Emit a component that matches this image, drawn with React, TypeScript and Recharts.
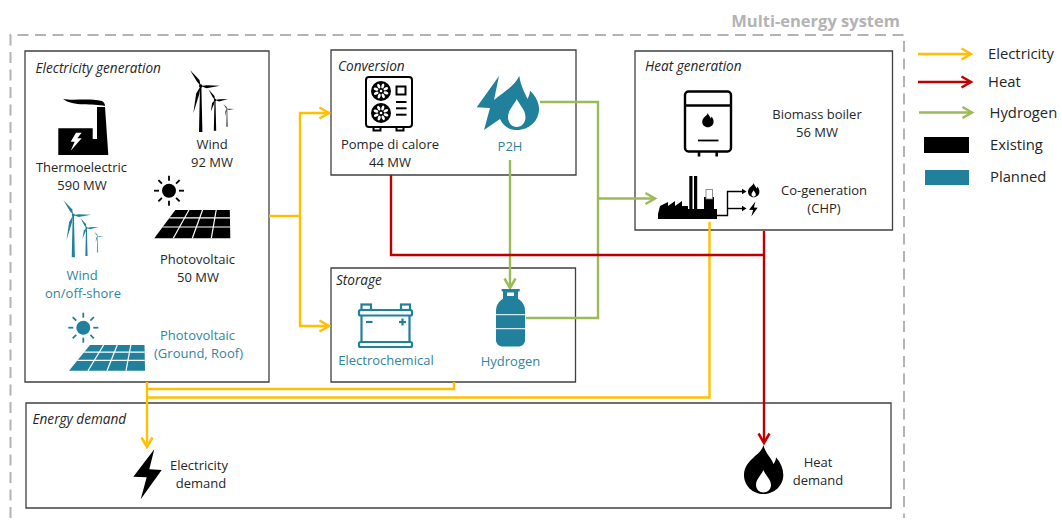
import React from 'react';
import { ScatterChart, Scatter, XAxis, YAxis, ReferenceArea } from 'recharts';

const W = 1062;
const H = 520;

const colors = {
  electricity: '#FFC000',
  heat: '#C00000',
  hydrogen: '#9BBB59',
  planned: '#21809B',
  plannedText: '#31859C',
  box: '#404040',
  system: '#B3B3B3',
  text: '#262626',
};

// frames, [x1, x2, y1, y2]
const boxes = [
  [25, 269, 51, 382],
  [331, 576, 50, 175],
  [331, 575.5, 268, 382],
  [635, 892.5, 51, 230],
  [26, 891, 403, 508],
];
const swatches = [
  { box: [924, 969, 137, 153], fill: '#000000' },
  { box: [925, 969, 170, 185], fill: colors.planned },
];

const systemBorder = [
  { x: 10.5, y: 518 }, { x: 10.5, y: 35 }, { x: 904, y: 35 }, { x: 904, y: 518 },
];

// connectors
const electricityLinks = [
  [{ x: 269, y: 216 }, { x: 300, y: 216 }],
  [{ x: 329, y: 113 }, { x: 300, y: 113 }, { x: 300, y: 326 }, { x: 329, y: 326 }],
  [{ x: 147, y: 382 }, { x: 147, y: 445 }],
  [{ x: 147, y: 389 }, { x: 454, y: 389 }, { x: 454, y: 382 }],
  [{ x: 147, y: 397.5 }, { x: 709.5, y: 397.5 }, { x: 709.5, y: 222 }],
  [{ x: 918, y: 54 }, { x: 970, y: 54 }],
];
const heatLinks = [
  [{ x: 391, y: 175 }, { x: 391, y: 255 }, { x: 764, y: 255 }],
  [{ x: 764, y: 231 }, { x: 764, y: 441 }],
  [{ x: 918, y: 82 }, { x: 970, y: 82 }],
];
const hydrogenLinks = [
  [{ x: 540, y: 102 }, { x: 598, y: 102 }, { x: 598, y: 318 }, { x: 526, y: 318 }],
  [{ x: 598, y: 198.5 }, { x: 654, y: 198.5 }],
  [{ x: 510, y: 160 }, { x: 510, y: 287 }],
  [{ x: 919, y: 112.5 }, { x: 971, y: 112.5 }],
];
const outputLinks = [
  [{ x: 717, y: 215.5 }, { x: 727.5, y: 215.5 }, { x: 727.5, y: 191.5 }, { x: 743, y: 191.5 }],
  [{ x: 727.5, y: 208.5 }, { x: 743, y: 208.5 }],
];

// arrow tips, angle in degrees
const electricityTips = [
  { x: 329, y: 113, a: 0 }, { x: 329, y: 326, a: 0 }, { x: 147, y: 447, a: 90 }, { x: 971, y: 54, a: 0 },
];
const heatTips = [{ x: 764, y: 443, a: 90 }, { x: 971, y: 82, a: 0 }];
const hydrogenTips = [{ x: 655, y: 198.5, a: 0 }, { x: 510, y: 288, a: 90 }, { x: 972, y: 112.5, a: 0 }];
const outputTips = [{ x: 746.5, y: 191.5, a: 0 }, { x: 746.5, y: 208.5, a: 0 }];

// text
const blackLabels = [
  { x: 212, y: 144, t: 'Wind' }, { x: 212, y: 162, t: '92 MW' },
  { x: 81.5, y: 167, t: 'Thermoelectric' }, { x: 82, y: 185, t: '590 MW' },
  { x: 197.5, y: 259, t: 'Photovoltaic' }, { x: 198, y: 277, t: '50 MW' },
  { x: 390, y: 144, t: 'Pompe di calore' }, { x: 390, y: 162, t: '44 MW' },
  { x: 817, y: 114, t: 'Biomass boiler' }, { x: 817, y: 132, t: '56 MW' },
  { x: 824, y: 190, t: 'Co-generation' }, { x: 824, y: 208, t: '(CHP)' },
  { x: 199, y: 465, t: 'Electricity' }, { x: 201, y: 483, t: 'demand' },
  { x: 818, y: 462, t: 'Heat' }, { x: 818, y: 480, t: 'demand' },
];
const plannedLabels = [
  { x: 82, y: 275, t: 'Wind' }, { x: 83, y: 293, t: 'on/off-shore' },
  { x: 197.5, y: 335, t: 'Photovoltaic' }, { x: 198.5, y: 353, t: '(Ground, Roof)' },
  { x: 510, y: 146, t: 'P2H' }, { x: 386, y: 360, t: 'Electrochemical' }, { x: 510.5, y: 361, t: 'Hydrogen' },
];
const sectionLabels = [
  { x: 35.5, y: 67, t: 'Electricity generation' },
  { x: 338, y: 65, t: 'Conversion' },
  { x: 336, y: 279, t: 'Storage' },
  { x: 645, y: 65, t: 'Heat generation' },
  { x: 32.5, y: 418, t: 'Energy demand' },
];
const legendLabels = [
  { x: 988, y: 53, t: 'Electricity' }, { x: 988, y: 81, t: 'Heat' }, { x: 989.5, y: 112, t: 'Hydrogen' },
  { x: 990, y: 144, t: 'Existing' }, { x: 990, y: 176, t: 'Planned' },
];
const titleLabels = [{ x: 900, y: 20, t: 'Multi-energy system' }];

// icon anchors
const icons = [
  { x: 58, y: 98, kind: 'factory', c: '#000000' },
  { x: 200.7, y: 86, kind: 'turbines', c: '#000000', s: 1 },
  { x: 73.3, y: 215, kind: 'turbines', c: colors.planned, s: 0.92 },
  { x: 169, y: 190.7, kind: 'sun', c: '#000000' },
  { x: 83.3, y: 327.7, kind: 'sun', c: colors.planned },
  { x: 154.3, y: 238.3, kind: 'panel', c: '#000000', s: 1 },
  { x: 69, y: 370.7, kind: 'panel', c: colors.planned, s: 0.91 },
  { x: 365, y: 76, kind: 'heatpump', c: '#000000' },
  { x: 476, y: 75, kind: 'p2h', c: colors.planned },
  { x: 358, y: 304, kind: 'battery', c: colors.planned },
  { x: 496, y: 289, kind: 'cylinder', c: colors.planned },
  { x: 684, y: 91, kind: 'boiler', c: '#000000' },
  { x: 658, y: 176, kind: 'chp', c: '#000000' },
  { x: 133, y: 449, kind: 'bolt', c: '#000000', s: 1 },
  { x: 749, y: 201.5, kind: 'bolt', c: '#000000', s: 0.3 },
  { x: 744, y: 445, kind: 'flame', c: '#000000', s: 1 },
  { x: 748, y: 183, kind: 'flame', c: '#000000', s: 0.29 },
];

const NoMark = () => <g />;

const textShape = (style: any) => (p: any) => (
  <text x={p.cx} y={p.cy} dominantBaseline="central" {...style}>{p.payload.t}</text>
);
const font = '"Open Sans", sans-serif';
const BlackText = textShape({ fontFamily: font, fontSize: 13, fill: colors.text, textAnchor: 'middle' });
const PlannedText = textShape({ fontFamily: font, fontSize: 13, fill: colors.plannedText, textAnchor: 'middle' });
const SectionText = textShape({ fontFamily: font, fontSize: 13.6, fontStyle: 'italic', fill: colors.text, textAnchor: 'start' });
const LegendText = textShape({ fontFamily: font, fontSize: 14.8, fill: colors.text, textAnchor: 'start' });
const TitleText = textShape({ fontFamily: font, fontSize: 16.5, fontWeight: 700, fill: colors.system, textAnchor: 'end' });

const tipShape = (color: string) => (p: any) => (
  <polyline
    points="-9.5,-5.5 0,0 -9.5,5.5"
    fill="none"
    stroke={color}
    strokeWidth={2.5}
    transform={`translate(${p.cx},${p.cy}) rotate(${p.payload.a})`}
  />
);
const SmallTip = (p: any) => (
  <polygon points="-4.5,-2.8 0,0 -4.5,2.8" fill="#000" transform={`translate(${p.cx},${p.cy})`} />
);

const blade = (hx: number, hy: number, tx: number, ty: number, w: number) => {
  const dx = tx - hx;
  const dy = ty - hy;
  const len = Math.hypot(dx, dy) || 1;
  const nx = (-dy / len) * w;
  const ny = (dx / len) * w;
  const bx = hx + dx * 0.3;
  const by = hy + dy * 0.3;
  return `${hx},${hy} ${bx + nx},${by + ny} ${tx},${ty} ${bx - nx * 0.3},${by - ny * 0.3}`;
};

const Turbine = ({ hx, hy, base, tips, w, c, o = 1 }: any) => (
  <g fill={c} opacity={o}>
    <polygon points={`${hx - w * 0.4},${hy} ${hx + w * 0.4},${hy} ${hx + w},${base} ${hx - w},${base}`} />
    <circle cx={hx} cy={hy} r={w} />
    {tips.map((t: number[], i: number) => (
      <polygon key={i} points={blade(hx, hy, t[0], t[1], w * 1.4)} />
    ))}
  </g>
);

const Turbines = ({ c, s }: any) => (
  <g transform={`scale(${s})`}>
    <Turbine hx={0} hy={0} base={46} w={1.7} c={c} tips={[[-10.7, -16], [19.3, -0.3], [-7.4, 27.3]]} />
    <Turbine hx={14.3} hy={14} base={44.7} w={1.2} c={c} tips={[[7.7, 3.3], [27.3, 13], [10, 25.7]]} />
    <Turbine hx={26.3} hy={23} base={40.7} w={0.7} c={c} o={0.75} tips={[[22.7, 18.3], [33.3, 23], [24.3, 30]]} />
  </g>
);

const Sun = ({ c }: any) => (
  <g>
    <circle r={7} fill={c} />
    {[0, 45, 90, 135, 180, 225, 270, 315].map((a) => (
      <line key={a} x1={10} x2={15} y1={0} y2={0} stroke={c} strokeWidth={1.8} transform={`rotate(${a})`} />
    ))}
  </g>
);

const Panel = ({ c, s }: any) => {
  const tx = 21;
  const tw = 54.5;
  const bw = 76;
  const h = 28.3;
  const at = (u: number, v: number) => `${tx * (1 - v) + (tw + (bw - tw) * v) * u},${-h + h * v}`;
  return (
    <g transform={`scale(1,${s})`}>
      <polygon points={`${at(0, 0)} ${at(1, 0)} ${at(1, 1)} ${at(0, 1)}`} fill={c} />
      {[0.25, 0.5, 0.75].map((u) => (
        <polyline key={u} points={`${at(u, 0)} ${at(u, 1)}`} stroke="#fff" strokeWidth={1.2} />
      ))}
      {[0.28, 0.6].map((v) => (
        <polyline key={v} points={`${at(0, v)} ${at(1, v)}`} stroke="#fff" strokeWidth={1.2} />
      ))}
    </g>
  );
};

const Fan = ({ x, y }: any) => (
  <g transform={`translate(${x},${y})`} stroke="none">
    <circle r={10} fill="#000" />
    <circle r={1.3} fill="#fff" />
    {[20, 65, 110, 155, 200, 245, 290, 335].map((a) => (
      <ellipse key={a} cx={5.3} rx={2.5} ry={1.4} fill="#fff" transform={`rotate(${a})`} />
    ))}
  </g>
);

const HeatPump = ({ c }: any) => (
  <g stroke={c} fill="none" strokeWidth={2}>
    <rect x={1} y={1} width={46} height={50} rx={3} />
    <rect x={8.5} y={51} width={7} height={3.5} />
    <rect x={31.5} y={51} width={7} height={3.5} />
    <Fan x={16} y={15} />
    <Fan x={16} y={37} />
    <rect x={31.5} y={10.5} width={9} height={8} />
    <line x1={31} x2={41.5} y1={26} y2={26} />
    <line x1={31} x2={41.5} y1={32.3} y2={32.3} />
    <line x1={31} x2={41.5} y1={38.7} y2={38.7} />
  </g>
);

const P2H = ({ c }: any) => (
  <g>
    <path fill={c} d="M23 1 L18 25 C26 18 38 12 43.3 1 C45 12 49 18 51.5 24 C53 21 54 18 54 15.7 C60 21 63 28 63 34 C63 46 53 55 41 55 C33 55 27 51 24 44 L8 55 L14 33 L0.7 32.3Z" />
    <path fill="#fff" d="M40.8 24 C43.5 30 49.5 35 49.5 42 C49.5 48 45.5 52 40.8 52 C36 52 32 48 32 42 C32 35 38 30 40.8 24Z" />
  </g>
);

const Battery = ({ c }: any) => (
  <g stroke={c} fill="none" strokeWidth={2.2}>
    <rect x={3.5} y={0.5} width={9.5} height={5.5} />
    <rect x={43} y={0.5} width={9} height={5.5} />
    <rect x={1} y={6} width={53} height={5.5} rx={1.5} />
    <line x1={3.5} x2={3.5} y1={11.5} y2={38} />
    <line x1={51.5} x2={51.5} y1={11.5} y2={38} />
    <rect x={1} y={38} width={53} height={5} rx={1.5} />
    <line x1={8} x2={14.5} y1={18} y2={18} />
    <line x1={41} x2={48} y1={18} y2={18} />
    <line x1={44.5} x2={44.5} y1={14.5} y2={21.5} />
  </g>
);

const Cylinder = ({ c }: any) => (
  <g>
    <rect x={5.7} y={0} width={18} height={2.5} fill={c} />
    <rect x={7} y={2} width={15} height={8} fill={c} />
    <rect x={11} y={3.5} width={7} height={3.5} fill="#fff" />
    <path fill={c} d="M8 9 C3 12 0 16 0 22 V51 C0 55 3 57.5 7 57.5 H22 C26 57.5 29 55 29 51 V22 C29 16 26 12 21 9Z" />
    <line x1={0} x2={29} y1={25.7} y2={25.7} stroke="#fff" strokeWidth={1} />
    <line x1={0} x2={29} y1={39.7} y2={39.7} stroke="#fff" strokeWidth={1} />
  </g>
);

const FLAME = 'M19.5 0 C21 8 27 12 29.5 19 C31 17 32 15 32 12.3 C37 18 39.3 24 39.3 30 C39.3 41 30 49 19.5 49 C9 49 0 41 0 30 C0 21 6 16 11 11 C15 8 18 5 19.5 0Z';
const DROP = 'M19.4 25 C21 30 27 34 27 40 C27 44.5 23.5 47.5 19.4 47.5 C15.5 47.5 12 44.5 12 40 C12 34 17.5 30 19.4 25Z';

const Flame = ({ c, s }: any) => (
  <g transform={`scale(${s})`}>
    <path fill={c} d={FLAME} />
    <path fill="#fff" d={DROP} />
  </g>
);

const Bolt = ({ c, s }: any) => (
  <path transform={`scale(${s})`} fill={c} d="M21.3 0.3 L0.3 27.7 L13.7 28.3 L7.7 50.3 L28.7 21 L16.3 20.3Z" />
);

const Boiler = ({ c }: any) => (
  <g stroke={c} fill="none" strokeWidth={2.4}>
    <rect x={1} y={0.5} width={46} height={60} rx={3.5} />
    <line x1={1} x2={47} y1={14.5} y2={14.5} />
    <line x1={15} x2={15} y1={61} y2={65.5} strokeWidth={2.6} />
    <line x1={32.7} x2={32.7} y1={61} y2={65.5} strokeWidth={2.6} />
    <line x1={14} x2={34.5} y1={49.5} y2={49.5} strokeWidth={1.8} />
    <g transform="translate(18.2,22) scale(0.29)" stroke="none">
      <path fill={c} d={FLAME} />
    </g>
  </g>
);

const Chp = ({ c }: any) => (
  <g fill={c}>
    <path d="M0 43 V38 L2 30 L10 26 V30 L17 25 V30 L24 25 V30 L30 30 V43Z" />
    <rect x={30} y={33} width={29} height={10} />
    <rect x={31.3} y={0} width={3.2} height={34} />
    <rect x={36} y={0} width={3.2} height={34} />
    <rect x={46} y={21} width={10} height={13} />
    <rect x={48} y={13.5} width={6.5} height={9.5} fill="#fff" stroke="#777" strokeWidth={0.8} />
  </g>
);

const Factory = ({ c }: any) => (
  <g fill={c}>
    <path d="M0.3 30.3 H34.7 V41 H39 V9 H47 L50.3 57 H0.3Z" />
    <path d="M5 1 C15 3 30 0 44 3 C46 4 47 6 47 8 C35 5 15 9 5 1Z" />
    <path fill="#fff" d="M18 34.7 L12.7 43.7 H16.7 L12.7 52.7 L23.7 40.3 H19.3 L23.7 34.7Z" />
  </g>
);

const IconMark = (p: any) => {
  const { kind, c, s } = p.payload;
  const parts: Record<string, React.ReactNode> = {
    factory: <Factory c={c} />,
    turbines: <Turbines c={c} s={s} />,
    sun: <Sun c={c} />,
    panel: <Panel c={c} s={s} />,
    heatpump: <HeatPump c={c} />,
    p2h: <P2H c={c} />,
    battery: <Battery c={c} />,
    cylinder: <Cylinder c={c} />,
    boiler: <Boiler c={c} />,
    chp: <Chp c={c} />,
    bolt: <Bolt c={c} s={s} />,
    flame: <Flame c={c} s={s} />,
  };
  return <g transform={`translate(${p.cx},${p.cy})`}>{parts[kind]}</g>;
};

const linkSeries = (links: { x: number; y: number }[][], stroke: string, strokeWidth: number, name: string) =>
  links.map((pts, i) => (
    <Scatter
      key={`${name}-${i}`}
      data={pts}
      line={{ stroke, strokeWidth }}
      shape={NoMark}
      isAnimationActive={false}
    />
  ));

const App: React.FC = () => (
  <div style={{ position: 'absolute', left: 0, top: 0, width: W, height: H, background: '#fff' }}>
    <ScatterChart width={W} height={H} margin={{ top: 0, right: 0, bottom: 0, left: 0 }}>
      <XAxis type="number" dataKey="x" domain={[0, W]} hide />
      <YAxis type="number" dataKey="y" domain={[0, H]} reversed hide />

      {boxes.map((b, i) => (
        <ReferenceArea key={i} x1={b[0]} x2={b[1]} y1={b[2]} y2={b[3]} fill="none" fillOpacity={0} stroke={colors.box} strokeWidth={1.3} />
      ))}
      {swatches.map((s, i) => (
        <ReferenceArea key={`sw-${i}`} x1={s.box[0]} x2={s.box[1]} y1={s.box[2]} y2={s.box[3]} fill={s.fill} fillOpacity={1} stroke="none" />
      ))}

      <Scatter
        data={systemBorder}
        line={{ stroke: colors.system, strokeWidth: 2, strokeDasharray: '11 6.5' }}
        shape={NoMark}
        isAnimationActive={false}
      />

      {linkSeries(electricityLinks, colors.electricity, 2.4, 'el')}
      {linkSeries(hydrogenLinks, colors.hydrogen, 2.4, 'h2')}
      {linkSeries(heatLinks, colors.heat, 2.4, 'heat')}
      {linkSeries(outputLinks, '#000000', 1.4, 'out')}

      <Scatter data={electricityTips} shape={tipShape(colors.electricity)} isAnimationActive={false} />
      <Scatter data={heatTips} shape={tipShape(colors.heat)} isAnimationActive={false} />
      <Scatter data={hydrogenTips} shape={tipShape(colors.hydrogen)} isAnimationActive={false} />
      <Scatter data={outputTips} shape={SmallTip} isAnimationActive={false} />

      <Scatter data={icons} shape={IconMark} isAnimationActive={false} />

      <Scatter data={blackLabels} shape={BlackText} isAnimationActive={false} />
      <Scatter data={plannedLabels} shape={PlannedText} isAnimationActive={false} />
      <Scatter data={sectionLabels} shape={SectionText} isAnimationActive={false} />
      <Scatter data={legendLabels} shape={LegendText} isAnimationActive={false} />
      <Scatter data={titleLabels} shape={TitleText} isAnimationActive={false} />
    </ScatterChart>
  </div>
);

export default App;
